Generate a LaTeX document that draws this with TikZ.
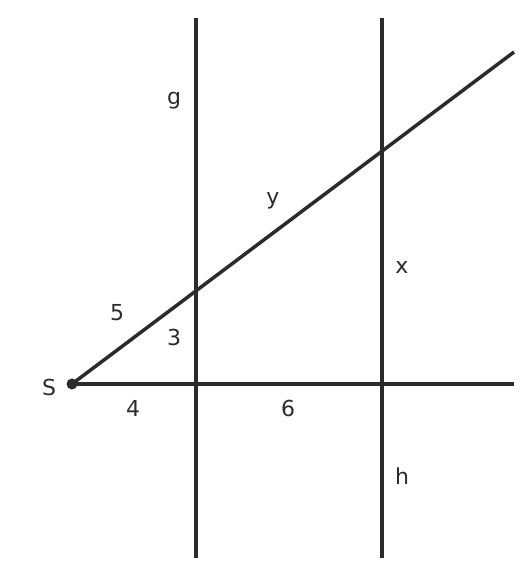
\documentclass[tikz,border=0pt]{standalone}
\usepackage{fontspec}
\setmainfont{DejaVu Sans}
\definecolor{ink}{HTML}{2B2B2B}
\begin{document}
\begin{tikzpicture}[x=1pt,y=-1pt,
  ln/.style={draw=ink,line width=3.5pt},
  lbl/.style={text=ink,font=\fontsize{22}{25}\selectfont,inner sep=0pt}]
\useasboundingbox (0,0) rectangle (532,576);
\coordinate (g1) at (196,18);
\coordinate (g2) at (196,558);
\coordinate (h1) at (382,18);
\coordinate (h2) at (382,558);
\coordinate (S) at (72,384);
\coordinate (hend) at (514,384);
\coordinate (dend) at (514,52);
\draw[ln] (g1) -- (g2);
\draw[ln] (h1) -- (h2);
\draw[ln] (S) -- (hend);
\draw[ln] (S) -- (dend);
\fill[ink] (S) circle (5.5);
\node[lbl] (lS) at (49,387) {S};
\node[lbl] (lg) at (174,101) {g};
\node[lbl] (ly) at (273,201) {y};
\node[lbl] (lx) at (402,267) {x};
\node[lbl] (l5) at (117,313) {5};
\node[lbl] (l3) at (174,337) {3};
\node[lbl] (l4) at (133,408) {4};
\node[lbl] (l6) at (288,408) {6};
\node[lbl] (lh) at (402,476) {h};
\end{tikzpicture}
\end{document}
